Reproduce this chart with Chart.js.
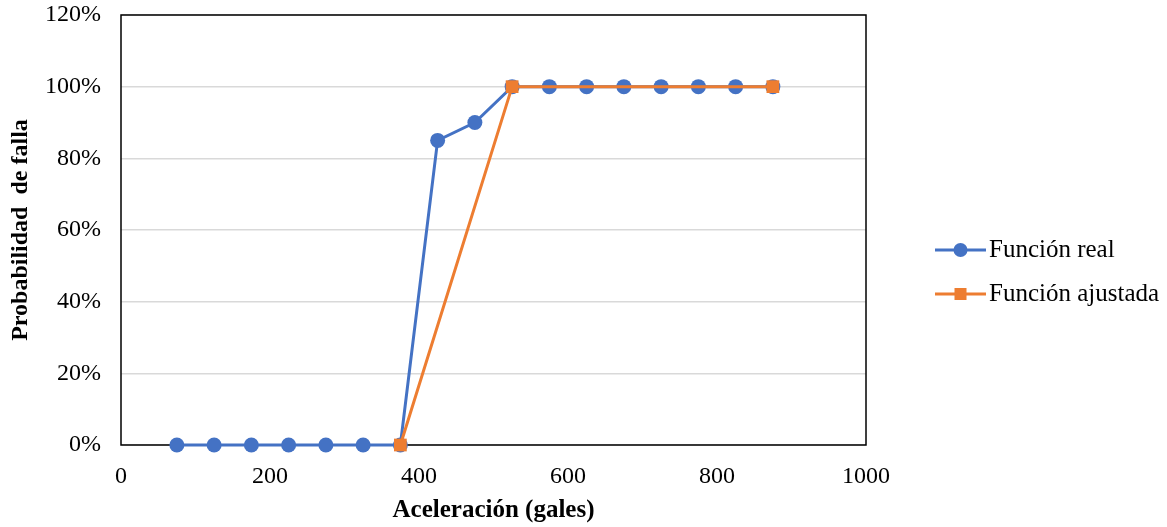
<!DOCTYPE html>
<html lang="es">
<head>
<meta charset="UTF-8">
<title>Probabilidad de falla</title>
<script src="https://cdn.jsdelivr.net/npm/chart.js@4.4.1/dist/chart.umd.min.js"></script>
<style>
	html, body { margin: 0; padding: 0; background: #fff; }
	#wrap { width: 1167px; height: 527px; }
</style>
</head>
<body>
<div id="wrap"><canvas id="fallaChart" width="1167" height="527"></canvas></div>
<script>

// datos
var realX = [75, 125, 175, 225, 275, 325, 375, 425, 475, 525, 575, 625, 675, 725, 775, 825, 875];
var realY = [0, 0, 0, 0, 0, 0, 0, 85, 90, 100, 100, 100, 100, 100, 100, 100, 100];
var ajustX = [375, 525, 875];
var ajustY = [0, 100, 100];
var xTicks = [0, 200, 400, 600, 800, 1000];
var yTicks = [0, 20, 40, 60, 80, 100, 120];

var serif = "'Liberation Serif', 'Times New Roman', serif";

function toPoints(xs, ys) {
	var pts = [];
	for (let i = 0; i < xs.length; i++) {
		pts.push({x: xs[i], y: ys[i]});
	}
	return pts;
}

// marco negro alrededor del area de trazado
const frame = {
	id: 'frame',
	beforeDatasetsDraw(chart) {
		const a = chart.chartArea;
		const c = chart.ctx;
		c.save();
		c.strokeStyle = '#000';
		c.lineWidth = 1.5;
		c.strokeRect(a.left, a.top, a.right - a.left, a.bottom - a.top);
		c.restore();
	}
};

// leyenda con linea + marcador, como en Excel
const sideLegend = {
	id: 'sideLegend',
	afterDraw(chart) {
		const c = chart.ctx;
		const x0 = chart.chartArea.right + 69;
		let y = 250;
		c.save();
		chart.data.datasets.forEach(function(ds) {
			c.strokeStyle = ds.borderColor;
			c.lineWidth = 3;
			c.beginPath();
			c.moveTo(x0, y);
			c.lineTo(x0 + 51, y);
			c.stroke();
			c.fillStyle = ds.pointBackgroundColor;
			if (ds.pointStyle === 'rect') {
				c.fillRect(x0 + 25.5 - 6, y - 6, 12, 12);
			} else {
				c.beginPath();
				c.arc(x0 + 25.5, y, 7, 0, Math.PI * 2);
				c.fill();
			}
			c.fillStyle = '#000';
			c.font = '25px ' + serif;
			c.textBaseline = 'middle';
			c.textAlign = 'left';
			c.fillText(ds.label, x0 + 54, y);
			y += 44;
		});
		c.restore();
	}
};

const ctx = document.getElementById('fallaChart').getContext('2d');
const fallaChart = new Chart(ctx, {
	type: 'line',
	data: {
		datasets: [{
			label: 'Función real',
			data: toPoints(realX, realY),
			borderColor: '#4472C4',
			backgroundColor: '#4472C4',
			pointBackgroundColor: '#4472C4',
			pointBorderWidth: 0,
			pointRadius: 7.5,
			pointStyle: 'circle',
			borderWidth: 3,
			tension: 0,
			clip: false,
			order: 1
		}, {
			label: 'Función ajustada',
			data: toPoints(ajustX, ajustY),
			borderColor: '#ED7D31',
			backgroundColor: '#ED7D31',
			pointBackgroundColor: '#ED7D31',
			pointBorderWidth: 0,
			pointRadius: 9,
			pointStyle: 'rect',
			borderWidth: 3,
			tension: 0,
			clip: false,
			order: 0
		}]
	},
	options: {
		responsive: false,
		animation: false,
		layout: {
			padding: {top: 15, right: 301, left: 0, bottom: 0}
		},
		plugins: {
			legend: { display: false },
			tooltip: { enabled: false }
		},
		scales: {
			x: {
				type: 'linear',
				min: 0,
				max: 1000,
				afterBuildTicks: function(scale) {
					scale.ticks = xTicks.map(v => ({value: v}));
				},
				afterFit: function(scale) {
					scale.height = 82;
					scale.paddingLeft = 0;
					scale.paddingRight = 0;
				},
				grid: { display: false, drawTicks: false },
				border: { display: false },
				ticks: {
					padding: 17,
					color: '#000',
					font: { family: serif, size: 24 },
					callback: function(v) { return String(v); }
				},
				title: {
					display: true,
					text: 'Aceleración (gales)',
					color: '#000',
					font: { family: serif, size: 25, weight: 'bold' },
					padding: { top: 0, bottom: 1 }
				}
			},
			y: {
				min: 0,
				max: 120,
				afterBuildTicks: function(scale) {
					scale.ticks = yTicks.map(v => ({value: v}));
				},
				afterFit: function(scale) {
					scale.width = 121;
					scale.paddingTop = 0;
					scale.paddingBottom = 0;
				},
				grid: { color: '#d9d9d9', lineWidth: 1.5, drawTicks: false },
				border: { display: false },
				ticks: {
					padding: 20,
					color: '#000',
					font: { family: serif, size: 24 },
					callback: function(v) { return v + '%'; }
				},
				title: {
					display: true,
					text: 'Probabilidad  de falla',
					color: '#000',
					font: { family: serif, size: 24, weight: 'bold' },
					padding: { top: 6, bottom: 0 }
				}
			}
		}
	},
	plugins: [frame, sideLegend]
});
</script>
</body>
</html>
